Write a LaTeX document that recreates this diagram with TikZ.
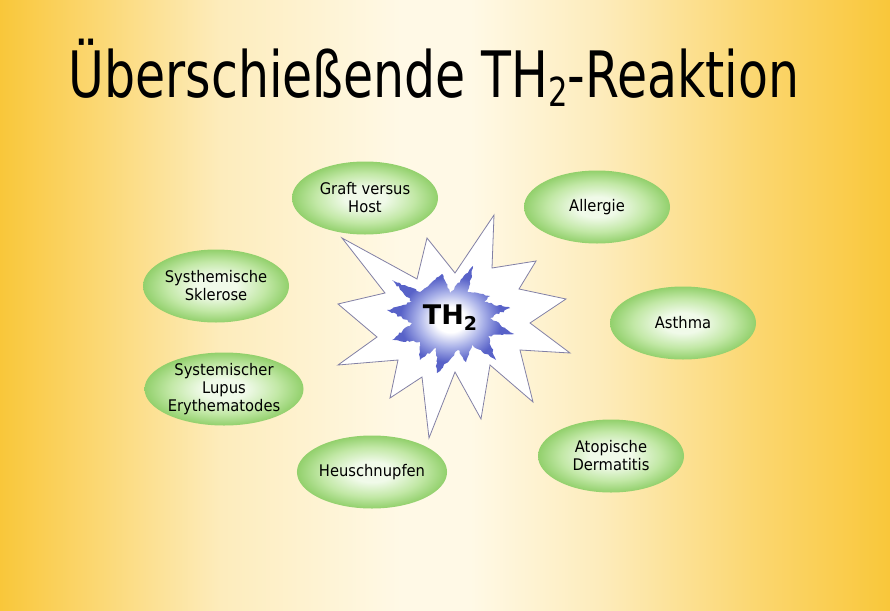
\documentclass[tikz,border=0pt]{standalone}
\usepackage{fontspec}
\setmainfont{DejaVu Sans}
\newfontfamily\ellfont[FakeStretch=0.92]{DejaVu Sans}
\usetikzlibrary{shapes.geometric,decorations.pathmorphing}
\definecolor{bg0}{RGB}{249,199,58}
\definecolor{bg1}{RGB}{251,214,110}
\definecolor{bg2}{RGB}{253,236,188}
\definecolor{bg3}{RGB}{255,249,230}
\definecolor{gc}{RGB}{240,250,233}
\definecolor{gm}{RGB}{194,232,166}
\definecolor{ge}{RGB}{146,208,108}
\definecolor{starline}{RGB}{130,128,165}
\definecolor{bs0}{RGB}{255,255,255}
\definecolor{bs1}{RGB}{168,176,232}
\definecolor{bs2}{RGB}{88,98,200}
\pgfdeclarehorizontalshading{bgshade}{100bp}{color(0bp)=(bg0); color(25bp)=(bg0); color(30bp)=(bg1); color(37.4bp)=(bg2); color(47.5bp)=(bg3); color(51.4bp)=(bg3); color(58.7bp)=(bg2); color(67.7bp)=(bg1); color(75bp)=(bg0); color(100bp)=(bg0)}
\pgfdeclareradialshading{greenell}{\pgfpoint{0bp}{0bp}}{color(0bp)=(gc); color(7bp)=(gc); color(17bp)=(gm); color(25bp)=(ge); color(50bp)=(ge)}
\pgfdeclareradialshading{bluestar}{\pgfpoint{0bp}{0bp}}{color(0bp)=(bs0); color(6bp)=(bs0); color(13bp)=(bs1); color(20bp)=(bs2); color(50bp)=(bs2)}
\tikzset{
  ell/.style={ellipse, shade, shading=greenell, minimum width=146pt, minimum height=73pt,
    inner sep=0pt, align=center, font=\ellfont\fontsize{16}{18}\selectfont},
  burst/.style={fill=white, draw=starline, line width=0.8pt, line join=miter},
  core/.style={shade, shading=bluestar, decorate,
    decoration={random steps, segment length=2.5pt, amplitude=1pt}},
}
\begin{document}
\begin{tikzpicture}[x=1pt,y=-1pt]
\pgfmathsetseed{7}
\useasboundingbox (0,0) rectangle (890,610);
\shade[shading=bgshade] (0,0) rectangle (890,610);
% title
\node[anchor=base, inner sep=0pt, font=\fontsize{64}{70}\selectfont] (title) at (434,97)
  {\scalebox{0.765}[1]{Überschießende TH\raisebox{-9pt}{\fontsize{40}{40}\selectfont 2}-Reaktion}};
% big burst
\path[burst] (342,238) -- (417,279) -- (427,238) -- (455,273) -- (494,215) -- (492,268)
  -- (536,261) -- (519,289) -- (566,299) -- (530,323) -- (570,353) -- (520,350)
  -- (533,402) -- (490,365) -- (481,419) -- (455,372) -- (429,438) -- (422,377)
  -- (390,398) -- (398,360) -- (338,365) -- (377,337) -- (338,304) -- (385,293) -- cycle;
% blue core star
\path[core] (473,266) -- (468,292) -- (490,296) -- (484,302) -- (510,308) -- (490,318)
  -- (514,334) -- (488,336) -- (496,360) -- (472,345) -- (466,362) -- (458,350)
  -- (437,373) -- (436,348) -- (420,360) -- (420,342) -- (392,340) -- (412,323)
  -- (387,310) -- (412,302) -- (392,280) -- (420,292) -- (442,274) -- (450,293) -- cycle;
\node[inner sep=0pt, font=\bfseries\fontsize{27}{27}\selectfont] (th) at (450,318)
  {TH\raisebox{-6pt}{\fontsize{19}{19}\selectfont 2}};
% ellipses
\node[ell] (gvh) at (365,198) {Graft versus\\Host};
\node[ell] (all) at (597,207) {Allergie};
\node[ell] (ssk) at (216,286) {Systhemische\\Sklerose};
\node[ell] (ast) at (683,323) {Asthma};
\node[ell] (sle) at (224,389) {Systemischer\\Lupus\\Erythematodes};
\node[ell] (heu) at (372,472) {Heuschnupfen};
\node[ell] (atd) at (611,456) {Atopische\\Dermatitis};
\end{tikzpicture}
\end{document}
